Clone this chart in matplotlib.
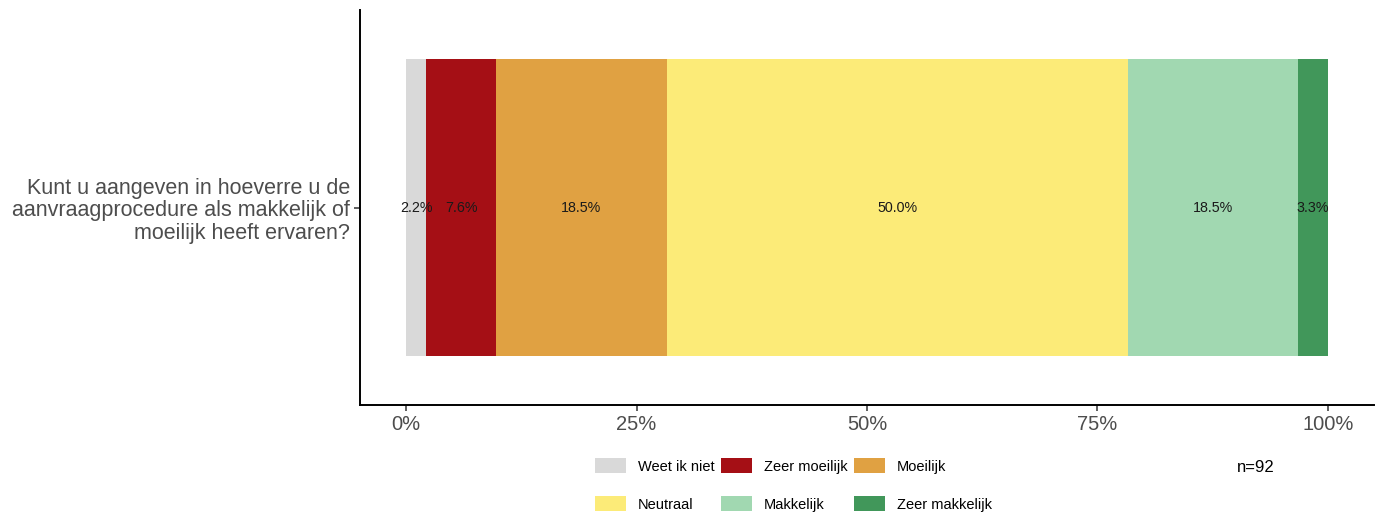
import numpy as np
import matplotlib.pyplot as plt
from matplotlib.patches import Patch

plt.rcParams['font.family'] = ['Liberation Sans', 'DejaVu Sans']

question = "Kunt u aangeven in hoeverre u de\naanvraagprocedure als makkelijk of\nmoeilijk heeft ervaren?"
categories = ["Weet ik niet", "Zeer moeilijk", "Moeilijk", "Neutraal", "Makkelijk", "Zeer makkelijk"]
counts = [2, 7, 17, 46, 17, 3]
colors = ["#D9D9D9", "#A50F15", "#E0A142", "#FCEB78", "#A1D8B1", "#41975A"]
tick_vals = [0, 0.25, 0.5, 0.75, 1.0]
tick_labels = ["0%", "25%", "50%", "75%", "100%"]

n = sum(counts)
shares = np.array(counts) / n
lefts = np.concatenate([[0], np.cumsum(shares)[:-1]])

fig = plt.figure(figsize=(13.86, 5.19), dpi=100)
ax = fig.add_axes([360 / 1386, 1 - 405 / 519, (1374 - 360) / 1386, (405 - 10) / 519])

for cat, left, w, c in zip(categories, lefts, shares, colors):
    ax.barh(1, w, left=left, height=0.9, color=c, label=cat)
    ax.text(left + w / 2, 1, f"{w * 100:.1f}%", ha='center', va='center',
            fontsize=10.3, color='#1a1a1a')

ax.set_xlim(-0.05, 1.05)
ax.set_ylim(0.4, 1.6)
ax.set_xticks(tick_vals)
ax.set_xticklabels(tick_labels, fontsize=14.5, color='#4D4D4D')
ax.set_yticks([1])
ax.set_yticklabels([question], fontsize=15.5, color='#4D4D4D', ha='right',
                   multialignment='right', linespacing=1.1)
ax.tick_params(axis='x', length=4, width=1.1, color='#333333', pad=3)
ax.tick_params(axis='y', length=4, width=1.1, color='#333333', pad=3)
for s in ['top', 'right']:
    ax.spines[s].set_visible(False)
for s in ['left', 'bottom']:
    ax.spines[s].set_linewidth(1.4)
    ax.spines[s].set_color('black')

# legend filled row by row (matplotlib fills columns)
order = [0, 3, 1, 4, 2, 5]
handles = [Patch(facecolor=colors[i], edgecolor='none') for i in order]
labels = [categories[i] for i in order]
fig.legend(handles, labels, ncol=3, frameon=False, loc='upper left',
           bbox_to_anchor=(595 / 1386, 1 - 458 / 519), borderpad=0,
           borderaxespad=0, handlelength=2.12, handleheight=1.23,
           handletextpad=0.82, columnspacing=0.45, labelspacing=1.55,
           fontsize=10.5)
fig.text(1237 / 1386, 1 - 467 / 519, f"n={n}", fontsize=12, ha='left', va='center')

fig.savefig("out.png", dpi=100)
